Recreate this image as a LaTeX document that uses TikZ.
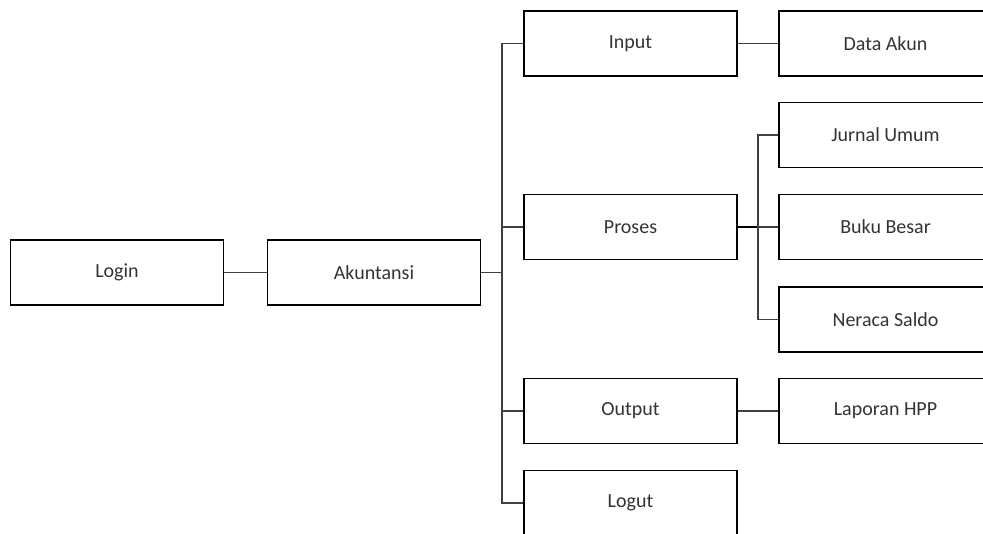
\documentclass[tikz,border=0pt]{standalone}
\usepackage{fontspec}
\setmainfont{Carlito}
\begin{document}
\begin{tikzpicture}[x=1pt,y=-1pt,
  box/.style={draw=black,line width=1.3pt,minimum width=213pt,minimum height=65pt,inner sep=0pt,font=\fontsize{20pt}{24pt}\selectfont,text=black!80},
  conn/.style={draw=black!75,line width=1.3pt}]
\useasboundingbox (0,0) rectangle (983,534);
\clip (0,0) rectangle (983,534);
\node[box] (login) at (117,272.5) {Login};
\node[box] (akun) at (374,272.5) {Akuntansi};
\node[box] (input) at (630.5,43.5) {Input};
\node[box] (proses) at (630.5,227) {Proses};
\node[box] (output) at (630.5,411) {Output};
\node[box] (logut) at (630.5,503) {Logut};
\node[box] (data) at (885.5,43.5) {Data Akun};
\node[box] (jurnal) at (885.5,135) {Jurnal Umum};
\node[box] (buku) at (885.5,227) {Buku Besar};
\node[box] (neraca) at (885.5,319.5) {Neraca Saldo};
\node[box] (lap) at (885.5,411) {Laporan HPP};
\coordinate (b1) at (502,272.5);
\coordinate (b2) at (758,227);
\draw[conn] (login) -- (akun);
\draw[conn] (akun) -- (b1);
\draw[conn] (input.west) -| (b1);
\draw[conn] (logut.west) -| (b1);
\draw[conn] (b1 |- proses.west) -- (proses.west);
\draw[conn] (b1 |- output.west) -- (output.west);
\draw[draw=black,line width=2pt] (proses.east) -- (b2);
\draw[conn] (jurnal.west) -| (b2);
\draw[conn] (neraca.west) -| (b2);
\draw[conn] (b2) -- (buku.west);
\draw[conn] (input) -- (data);
\draw[conn] (output) -- (lap);
\end{tikzpicture}
\end{document}
